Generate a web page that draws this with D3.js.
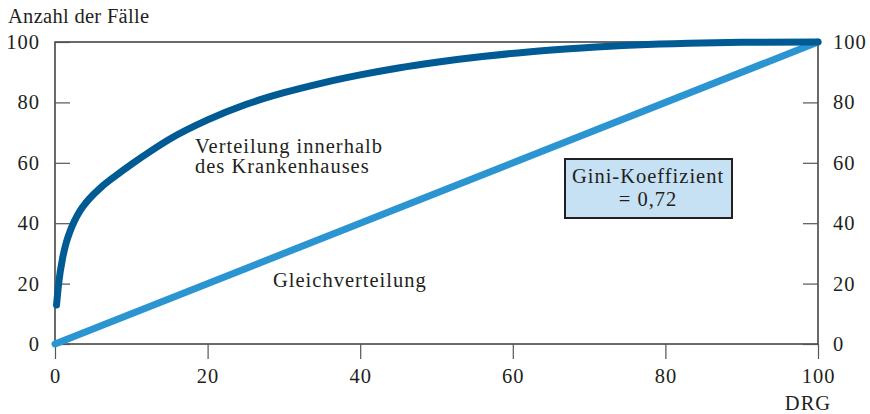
<!DOCTYPE html>
<html>
<head>
<meta charset="utf-8">
<script src="https://cdn.jsdelivr.net/npm/d3@7"></script>
<style>
  body { margin: 0; background: #fff; }
  text { font-family: "Liberation Serif", "Times New Roman", serif; fill: #231f20; letter-spacing: 1px; }
</style>
</head>
<body>
<div id="chart"></div>
<script>
//constants
const width = 870,
  height = 414,
  margin = { top: 42, bottom: 70, left: 55, right: 52 };
const fontSize = 20.5;

// Lorenz curve (share of DRGs vs share of cases)
const drgShare = [0.2, 0.5, 1, 1.5, 2, 2.5, 3.3, 4, 5, 6, 8, 10, 12.5, 15, 20, 25, 30, 35, 40, 45, 50, 56, 62, 69, 76, 83, 90, 100];
const caseShare = [12.9, 20.5, 28.5, 33.8, 37.5, 40.5, 44.2, 46.6, 49.4, 51.8, 55.8, 59.5, 63.8, 67.8, 74.2, 79.3, 83.2, 86.4, 89.1, 91.4, 93.3, 95.2, 96.7, 98, 99, 99.6, 99.9, 100];
// equality line
const equalX = [0, 100];
const equalY = [0, 100];
const tickValues = [0, 20, 40, 60, 80, 100];
const giniLines = ["Gini-Koeffizient", "= 0,72"];

const svg = d3.select("#chart")
  .append("svg")
  .attr("width", width)
  .attr("height", height);

const x = d3.scaleLinear().domain([0, 100]).range([margin.left, width - margin.right]);
const y = d3.scaleLinear().domain([0, 100]).range([height - margin.bottom, margin.top]);

// frame
svg.append("rect")
  .attr("x", x(0)).attr("y", y(100))
  .attr("width", x(100) - x(0)).attr("height", y(0) - y(100))
  .attr("fill", "none").attr("stroke", "#3a3a3a").attr("stroke-width", 1.5);

// axes
const axisStyle = g => {
  g.select(".domain").remove();
  g.selectAll(".tick line").attr("stroke", "#555").attr("stroke-width", 1.2);
  g.selectAll(".tick text").attr("font-size", fontSize).attr("fill", "#231f20")
    .style("font-family", "'Liberation Serif', serif");
};

svg.append("g")
  .attr("transform", `translate(${x(0)},0)`)
  .call(d3.axisRight(y).tickValues(tickValues).tickSize(15).tickFormat(d3.format("d")))
  .call(axisStyle)
  .call(g => g.selectAll(".tick text").attr("x", -15).attr("text-anchor", "end"));

svg.append("g")
  .attr("transform", `translate(${x(100)},0)`)
  .call(d3.axisLeft(y).tickValues(tickValues).tickSize(15).tickFormat(d3.format("d")))
  .call(axisStyle)
  .call(g => g.selectAll(".tick text").attr("x", 15).attr("text-anchor", "start"));

svg.append("g")
  .attr("transform", `translate(0,${y(0)})`)
  .call(d3.axisBottom(x).tickValues(tickValues).tickSize(15).tickFormat(d3.format("d")))
  .call(axisStyle)
  .call(g => g.selectAll(".tick text").attr("y", 24));

// axis titles
svg.append("text").attr("x", 8).attr("y", 23).attr("font-size", fontSize)
  .style("letter-spacing", "0.3px").text("Anzahl der Fälle");
svg.append("text").attr("x", 808).attr("y", 410).attr("font-size", fontSize)
  .attr("text-anchor", "middle").text("DRG");

// lines
const line = d3.line().x(d => x(d[0])).y(d => y(d[1])).curve(d3.curveMonotoneX);

svg.append("path")
  .datum(d3.zip(equalX, equalY))
  .attr("d", line)
  .attr("fill", "none").attr("stroke", "#2b95d2").attr("stroke-width", 7)
  .attr("stroke-linecap", "round");

svg.append("path")
  .datum(d3.zip(drgShare, caseShare))
  .attr("d", line)
  .attr("fill", "none").attr("stroke", "#005b94").attr("stroke-width", 7)
  .attr("stroke-linecap", "round");

// labels
svg.append("text").attr("x", 195).attr("y", 153).attr("font-size", fontSize).text("Verteilung innerhalb");
svg.append("text").attr("x", 195).attr("y", 173).attr("font-size", fontSize).text("des Krankenhauses");
svg.append("text").attr("x", 273).attr("y", 287).attr("font-size", fontSize).text("Gleichverteilung");

// gini box
svg.append("rect")
  .attr("x", 565).attr("y", 159).attr("width", 167).attr("height", 59)
  .attr("fill", "#c6e0f4").attr("stroke", "#231f20").attr("stroke-width", 2);

svg.selectAll(".gini")
  .data(giniLines)
  .join("text")
  .attr("class", "gini")
  .attr("x", 648)
  .attr("y", (d, i) => 183 + i * 23)
  .attr("font-size", fontSize)
  .attr("text-anchor", "middle")
  .text(d => d);
</script>
</body>
</html>
